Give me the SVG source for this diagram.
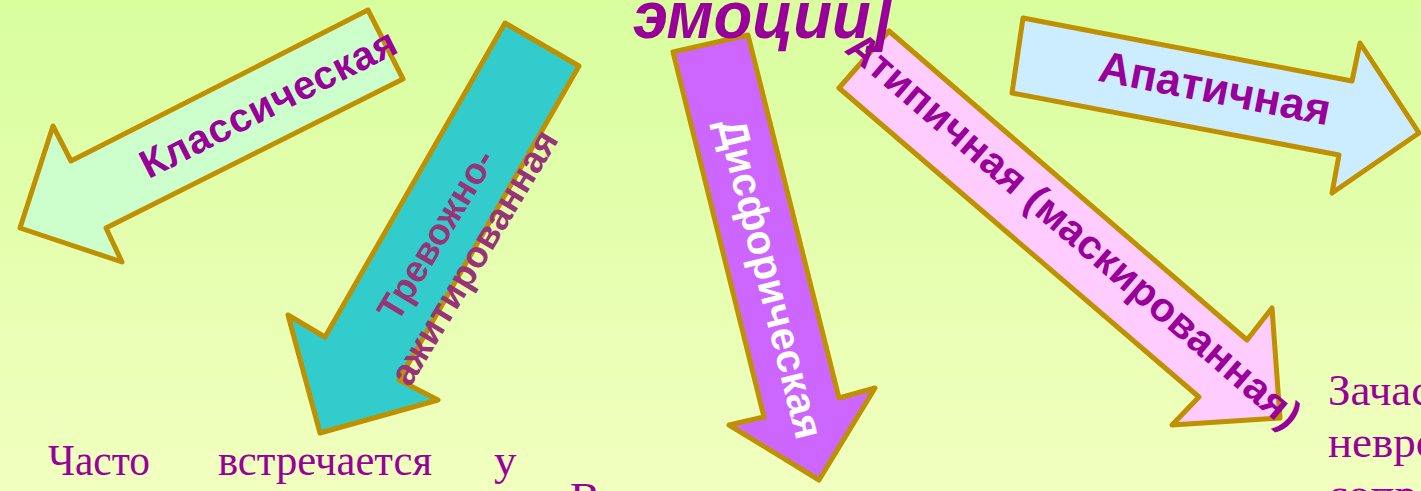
<svg xmlns="http://www.w3.org/2000/svg" width="1421" height="491" viewBox="0 0 1421 491">
<defs>
<linearGradient id="bg" x1="0" y1="0" x2="0" y2="1">
<stop offset="0" stop-color="#D8FE9E"/>
<stop offset="1" stop-color="#F1FFBF"/>
</linearGradient>
</defs>
<style>
.arr{stroke:#BF9000;stroke-width:5;stroke-linejoin:round}
.lbl{font-family:"Liberation Sans",Arial,sans-serif;font-weight:bold;text-anchor:middle}
.body{font-family:"Liberation Serif","Times New Roman",serif;font-size:45px;fill:#990099}
</style>
<rect x="0" y="0" width="1421" height="491" fill="url(#bg)"/>

<g id="node-klassicheskaya">
<polygon class="arr" fill="#CCFFCC" points="368,10 403,79 106,228 122,262 20,228 53,126 71,161"/>
<text class="lbl" transform="translate(268,103) rotate(-26.9)" x="0" y="14" font-size="40" fill="#990099" textLength="282" lengthAdjust="spacing">Классическая</text>
</g>

<g id="node-trevozhno">
<polygon class="arr" fill="#33CCCC" points="505,23 579,66 399,380 438,400 320,433 288,315 325,337"/>
<g transform="translate(447,241) rotate(-59)">
<text class="lbl" x="0" y="0" font-size="37" fill="#993377">Тревожно-</text>
<text class="lbl" x="0" y="44" font-size="37" fill="#993377" textLength="290" lengthAdjust="spacing">ажитированная</text>
</g>
</g>

<g id="node-disforicheskaya">
<polygon class="arr" fill="#CC66FF" points="673,52 748,35 839,398 875,388 819,480 729,425 764,417"/>
<text class="lbl" transform="translate(757,282) rotate(76)" x="0" y="0" font-size="41" fill="#FFFFFF" textLength="328" lengthAdjust="spacing">Дисфорическая</text>
</g>

<g id="node-atipichnaya">
<polygon class="arr" fill="#FFCCFF" points="889,31 1247,340 1272,308 1280,418 1172,425 1199,397 839,88"/>
<text class="lbl" transform="translate(1065,241) rotate(40.6)" x="0" y="0" font-size="41" fill="#990099" textLength="584" lengthAdjust="spacing">Атипичная (маскированная)</text>
</g>

<g id="node-apatichnaya">
<polygon class="arr" fill="#CCECFF" points="1023,18 1352,81 1360,43 1419,133 1332,193 1339,155 1012,93"/>
<text class="lbl" transform="translate(1212,103) rotate(11)" x="0" y="0" font-size="44" fill="#990099" textLength="235" lengthAdjust="spacing">Апатичная</text>
</g>

<g id="title">
<text x="633" y="38" font-family="'Liberation Sans',Arial,sans-serif" font-weight="bold" font-style="italic" font-size="66" fill="#990099" textLength="259" lengthAdjust="spacingAndGlyphs">эмоций]</text>
</g>

<g id="connectors"></g>

<g id="body-text">
<text class="body" x="48" y="475" textLength="102" lengthAdjust="spacingAndGlyphs">Часто</text>
<text class="body" x="218" y="475" textLength="214" lengthAdjust="spacingAndGlyphs">встречается</text>
<text class="body" x="494" y="475">у</text>
<text class="body" x="570" y="513">В</text>
<text class="body" x="1328" y="405">Зачас</text>
<text class="body" x="1328" y="457">невро</text>
<text class="body" x="1328" y="509">сопро</text>
</g>
</svg>
